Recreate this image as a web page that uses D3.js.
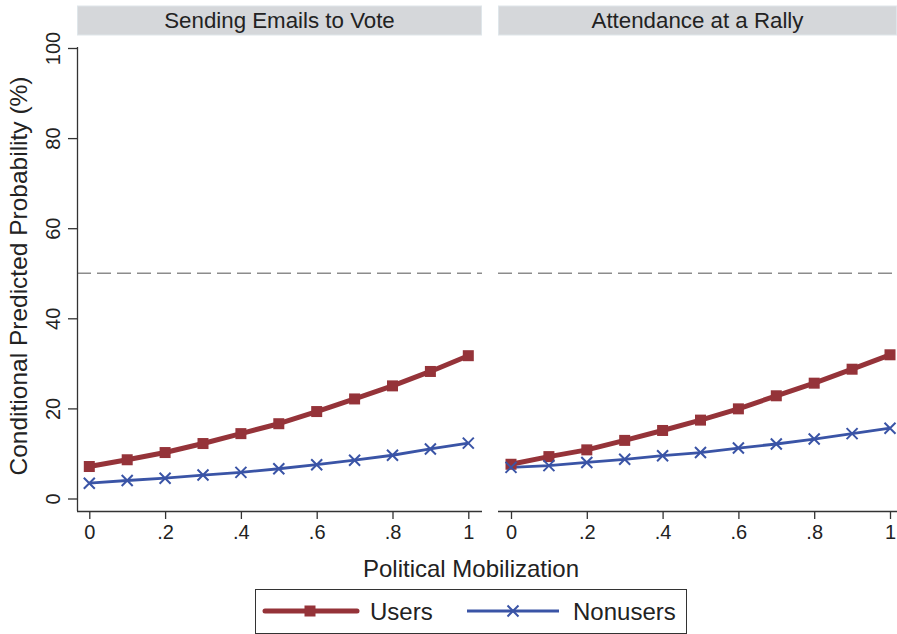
<!DOCTYPE html>
<html><head><meta charset="utf-8">
<script src="https://cdn.jsdelivr.net/npm/d3@7"></script>
<style>body{margin:0;background:#fff;} svg{display:block;font-family:"Liberation Sans",Arial,sans-serif;}</style>
</head><body>
<svg id="c" width="897" height="634"></svg>
<script>
const panels = ["Sending Emails to Vote", "Attendance at a Rally"];
const xValues = [0, 0.1, 0.2, 0.3, 0.4, 0.5, 0.6, 0.7, 0.8, 0.9, 1];
const usersEmail = [7.1, 8.6, 10.2, 12.2, 14.4, 16.6, 19.3, 22.1, 25.0, 28.2, 31.7];
const nonusersEmail = [3.4, 4.0, 4.5, 5.2, 5.8, 6.6, 7.5, 8.5, 9.6, 11.0, 12.3];
const usersRally = [7.6, 9.3, 10.8, 12.9, 15.1, 17.4, 19.9, 22.8, 25.6, 28.7, 31.9];
const nonusersRally = [6.9, 7.3, 8.0, 8.7, 9.5, 10.2, 11.2, 12.1, 13.2, 14.4, 15.6];
const xTicks = [0, 0.2, 0.4, 0.6, 0.8, 1];
const xTickLabels = ["0", ".2", ".4", ".6", ".8", "1"];
const yTicks = [0, 20, 40, 60, 80, 100];
const refLine = 50;
const seriesNames = ["Users", "Nonusers"];

const usersColor = "#953339", nonColor = "#3a54a6";
const svg = d3.select("#c");
const y = d3.scaleLinear().domain([0, 100]).range([498.5, 48]);
const panelDefs = [
  {title: panels[0], left: 77, right: 482, x0: 89.3, x1: 468.3, users: usersEmail, non: nonusersEmail, yaxis: true},
  {title: panels[1], left: 498, right: 897, x0: 511, x1: 890, users: usersRally, non: nonusersRally, yaxis: false}
];
panelDefs.forEach(p => {
  const x = d3.scaleLinear().domain([0, 1]).range([p.x0, p.x1]);
  const g = svg.append("g");
  // strip
  g.append("rect").attr("x", p.left + 0.5).attr("y", 6).attr("width", p.right - p.left - 1).attr("height", 29)
    .attr("fill", "#d5d7da").attr("stroke", "#dfe6ea").attr("stroke-width", 1);
  g.append("text").attr("x", (p.left + p.right) / 2).attr("y", 28).attr("text-anchor", "middle")
    .attr("font-size", 22.3).attr("fill", "#222").text(p.title);
  // ref line
  g.append("line").attr("x1", p.left).attr("x2", p.right).attr("y1", y(refLine)).attr("y2", y(refLine))
    .attr("stroke", "#8c8c8c").attr("stroke-width", 1.5).attr("stroke-dasharray", "14,6");
  // x axis
  const xa = g.append("g").attr("transform", "translate(0,511)")
    .call(d3.axisBottom(x).tickValues(xTicks).tickFormat((d, i) => xTickLabels[i]).tickSize(8).tickPadding(6).tickSizeOuter(0));
  xa.select(".domain").attr("d", `M${p.left},0.5H${p.right}`).attr("stroke", "#333").attr("stroke-width", 1.3);
  xa.selectAll(".tick line").attr("stroke", "#333").attr("stroke-width", 1.3);
  xa.selectAll(".tick text").attr("font-size", 20).attr("fill", "#222").attr("font-family", "Liberation Sans, Arial, sans-serif");
  if (p.yaxis) {
    const ya = g.append("g").attr("transform", `translate(${p.left},0)`)
      .call(d3.axisLeft(y).tickValues(yTicks).tickSize(9).tickSizeOuter(0));
    ya.select(".domain").attr("d", `M0.5,${y(100) - 1}V511`).attr("stroke", "#333").attr("stroke-width", 1.3);
    ya.selectAll(".tick line").attr("stroke", "#333").attr("stroke-width", 1.3);
    ya.selectAll(".tick text").attr("font-size", 20).attr("fill", "#222")
      .attr("font-family", "Liberation Sans, Arial, sans-serif")
      .attr("transform", "rotate(-90)").attr("x", 0).attr("y", -17).attr("dy", 0).attr("text-anchor", "middle");
  }
  // lines
  const line = d3.line().x((d, i) => x(xValues[i])).y(d => y(d));
  g.append("path").datum(p.non).attr("d", line).attr("fill", "none").attr("stroke", nonColor).attr("stroke-width", 2.8);
  g.append("path").datum(p.users).attr("d", line).attr("fill", "none").attr("stroke", usersColor).attr("stroke-width", 5).attr("stroke-linejoin", "round");
  // markers
  g.selectAll(".sq").data(p.users).enter().append("rect")
    .attr("x", (d, i) => x(xValues[i]) - 5.5).attr("y", d => y(d) - 5.5).attr("width", 11).attr("height", 11).attr("fill", usersColor);
  const s = 5.5;
  g.selectAll(".xm").data(p.non).enter().append("path")
    .attr("d", (d, i) => { const cx = x(xValues[i]), cy = y(d); return `M${cx - s},${cy - s}L${cx + s},${cy + s}M${cx - s},${cy + s}L${cx + s},${cy - s}`; })
    .attr("stroke", nonColor).attr("stroke-width", 2).attr("fill", "none");
});
// axis titles
svg.append("text").attr("transform", "translate(27,276) rotate(-90)").attr("text-anchor", "middle")
  .attr("font-size", 24.5).attr("fill", "#222").text("Conditional Predicted Probability (%)");
svg.append("text").attr("x", 471).attr("y", 577).attr("text-anchor", "middle")
  .attr("font-size", 24).attr("fill", "#222").text("Political Mobilization");
// legend
const lg = svg.append("g");
lg.append("rect").attr("x", 255.5).attr("y", 589.5).attr("width", 431).attr("height", 44).attr("fill", "#fff").attr("stroke", "#333").attr("stroke-width", 1);
lg.append("line").attr("x1", 265).attr("x2", 357).attr("y1", 611).attr("y2", 611).attr("stroke", usersColor).attr("stroke-width", 5).attr("stroke-linecap", "round");
lg.append("rect").attr("x", 304.5).attr("y", 605.5).attr("width", 11).attr("height", 11).attr("fill", usersColor);
lg.append("text").attr("x", 370).attr("y", 620).attr("font-size", 24).attr("fill", "#222").text(seriesNames[0]);
lg.append("line").attr("x1", 467).attr("x2", 559).attr("y1", 611).attr("y2", 611).attr("stroke", nonColor).attr("stroke-width", 2.8);
lg.append("path").attr("d", "M507.5,605.5L518.5,616.5M507.5,616.5L518.5,605.5").attr("stroke", nonColor).attr("stroke-width", 2);
lg.append("text").attr("x", 573).attr("y", 620).attr("font-size", 24).attr("fill", "#222").text(seriesNames[1]);
</script>
</body></html>
